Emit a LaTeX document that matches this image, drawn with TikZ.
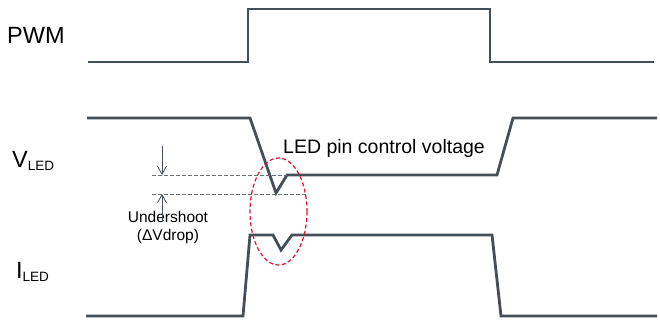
\documentclass[tikz,border=0pt]{standalone}
\usepackage{fontspec}
\setmainfont{Liberation Sans}
\usetikzlibrary{arrows.meta}
\definecolor{wave}{HTML}{454F58}
\definecolor{dashgray}{HTML}{6A7077}
\definecolor{ellred}{HTML}{E0102A}
\begin{document}
\begin{tikzpicture}[x=1pt,y=-1pt,
  wavestyle/.style={draw=wave,line width=2.8pt,line join=miter},
  guide/.style={draw=dashgray,line width=0.9pt,dash pattern=on 4pt off 2pt},
  marker/.style={draw=wave,line width=0.8pt,-{Straight Barb[length=8pt,width=9pt]}},
  lbl/.style={inner sep=0pt,anchor=base west,text=black}]
\useasboundingbox (0,0) rectangle (660,322);
% labels
\node[lbl,font=\fontsize{23.5}{26}\selectfont] (pwm) at (7,43) {PWM};
\node[lbl,font=\fontsize{23.5}{26}\selectfont] (vled) at (12,167) {V\raisebox{-3pt}{\fontsize{13.5}{15}\selectfont LED}};
\node[lbl,font=\fontsize{23.5}{26}\selectfont] (iled) at (16,278) {I\raisebox{-3pt}{\fontsize{13.5}{15}\selectfont LED}};
\node[lbl,font=\fontsize{19.5}{22}\selectfont] (ctrl) at (283,153) {LED pin control voltage};
\node[inner sep=0pt,anchor=base,align=center,font=\fontsize{15.5}{18}\selectfont] (under) at (168,240) {Undershoot\\(ΔVdrop)};
% waveforms
\draw[wavestyle] (88,62) -- (248,62) -- (248,9) -- (490,9) -- (490,62) -- (654,62);
\draw[wavestyle] (87,118) -- (250,118) -- (276,193) -- (287,175) -- (497,175) -- (513,118) -- (657,118);
\draw[wavestyle] (86,316) -- (243,316) -- (250,235) -- (273,235) -- (281,250) -- (292,235) -- (492,235) -- (501,316) -- (657,316);
% guides
\coordinate (g1a) at (152,175); \coordinate (g1b) at (287,175);
\coordinate (g2a) at (152,194); \coordinate (g2b) at (307,194);
\draw[guide] (g1a) -- (g1b);
\draw[guide] (g2a) -- (g2b);
\coordinate (a1s) at (162,146); \coordinate (a1e) at (162,175);
\coordinate (a2s) at (162,222); \coordinate (a2e) at (162,194);
\draw[marker] (a1s) -- (a1e);
\draw[marker] (a2s) -- (a2e);
% ellipse
\draw[ellred,line width=1.2pt,dash pattern=on 4pt off 2.5pt] (278.5,211.5) ellipse [x radius=28.5,y radius=53.5];
\end{tikzpicture}
\end{document}
